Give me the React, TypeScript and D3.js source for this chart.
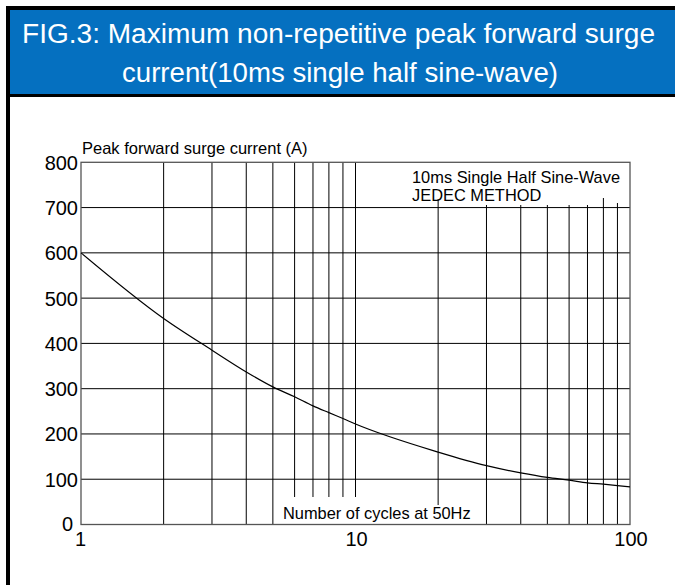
import React from "react";
import * as d3 from "d3";

const titleLines = [
  "FIG.3: Maximum non-repetitive peak forward surge",
  "current(10ms single half sine-wave)",
];
const cycles = [1, 2, 3, 4, 5, 6, 7, 8, 9, 10, 20, 30, 40, 50, 60, 70, 80, 90, 100];
const surgeCurrent = [600, 455, 385, 337, 304, 282, 262, 247, 234, 222, 160, 130, 114, 104, 98, 92, 89, 86, 83];
const yTicks = [0, 100, 200, 300, 400, 500, 600, 700, 800];
const xTickLabels = [1, 10, 100];
const gridX = [2, 3, 4, 5, 6, 7, 8, 9, 10, 20, 30, 40, 50, 60, 70, 80, 90];
const yAxisTitle = "Peak forward surge current (A)";
const xAxisTitle = "Number of cycles at 50Hz";
const noteLines = ["10ms Single Half Sine-Wave", "JEDEC METHOD"];

const W = 675;
const H = 585;
const FONT = "'Liberation Sans', Arial, sans-serif";

export default function App() {
  const x = d3.scaleLog().domain([1, 100]).range([81, 630]);
  const y = d3.scaleLinear().domain([0, 800]).range([524.5, 162.3]);

  const data = cycles.map((c, i) => ({ c, v: surgeCurrent[i] }));
  const line = d3
    .line<{ c: number; v: number }>()
    .x((d) => x(d.c))
    .y((d) => y(d.v))
    .curve(d3.curveMonotoneX);

  // vertical grid extents (cut around the text labels)
  const vExtent = (c: number): [number, number] => {
    let top = y(800);
    let bottom = y(0);
    if (c >= 6 && c <= 10) bottom = 497;
    if (c === 20) bottom = 505;
    if (c === 20) top = 199;
    else if (c === 80) top = 198;
    else if (c === 90) top = 203;
    else if (c > 20) top = 205;
    return [top, bottom];
  };

  return (
    <svg
      width={W}
      height={H}
      style={{ position: "absolute", left: 0, top: 0, background: "#fff" }}
      fontFamily={FONT}
    >
      {/* header */}
      <rect x={8} y={8} width={W} height={87} fill="#0570C0" />
      <rect x={6} y={6} width={W} height={4} fill="#000" />
      <rect x={6} y={6} width={4} height={H} fill="#000" />
      <rect x={6} y={94} width={W} height={3} fill="#000" />
      <text
        x={22}
        y={43}
        fill="#fff"
        fontSize={27}
        textLength={633}
        lengthAdjust="spacingAndGlyphs"
      >
        {titleLines[0]}
      </text>
      <text
        x={122}
        y={82}
        fill="#fff"
        fontSize={27}
        textLength={436}
        lengthAdjust="spacingAndGlyphs"
      >
        {titleLines[1]}
      </text>

      {/* horizontal grid */}
      {yTicks
        .filter((t) => t > 0 && t < 800)
        .map((t) => (
          <line key={"h" + t} x1={x(1)} x2={x(100)} y1={y(t)} y2={y(t)} stroke="#000" strokeWidth={1} />
        ))}
      {/* vertical grid */}
      {gridX.map((c) => {
        const [t, b] = vExtent(c);
        return <line key={"v" + c} x1={x(c)} x2={x(c)} y1={t} y2={b} stroke="#000" strokeWidth={1} />;
      })}
      {/* frame */}
      <rect
        x={x(1)}
        y={y(800)}
        width={x(100) - x(1)}
        height={y(0) - y(800)}
        fill="none"
        stroke="#555"
        strokeWidth={1.3}
      />

      {/* curve */}
      <path d={line(data) || ""} fill="none" stroke="#000" strokeWidth={1.2} />

      {/* y tick labels */}
      {yTicks.map((t) => (
        <text
          key={"yt" + t}
          x={t === 0 ? 73 : 78}
          y={t === 0 ? y(t) + 6 : y(t) + 7.5}
          fontSize={20}
          textAnchor="end"
          fill="#000"
        >
          {t}
        </text>
      ))}
      {/* x tick labels */}
      {xTickLabels.map((c) => (
        <text key={"xt" + c} x={c === 1 ? x(c) - 0.5 : x(c) + 1} y={546} fontSize={20} textAnchor="middle" fill="#000">
          {c}
        </text>
      ))}

      <text x={82} y={154} fontSize={16.5} fill="#000">
        {yAxisTitle}
      </text>
      <text x={283} y={519} fontSize={16.4} fill="#000">
        {xAxisTitle}
      </text>
      <text x={412} y={183} fontSize={16.4} fill="#000">
        {noteLines[0]}
      </text>
      <text x={412} y={201} fontSize={16.4} fill="#000">
        {noteLines[1]}
      </text>
    </svg>
  );
}
